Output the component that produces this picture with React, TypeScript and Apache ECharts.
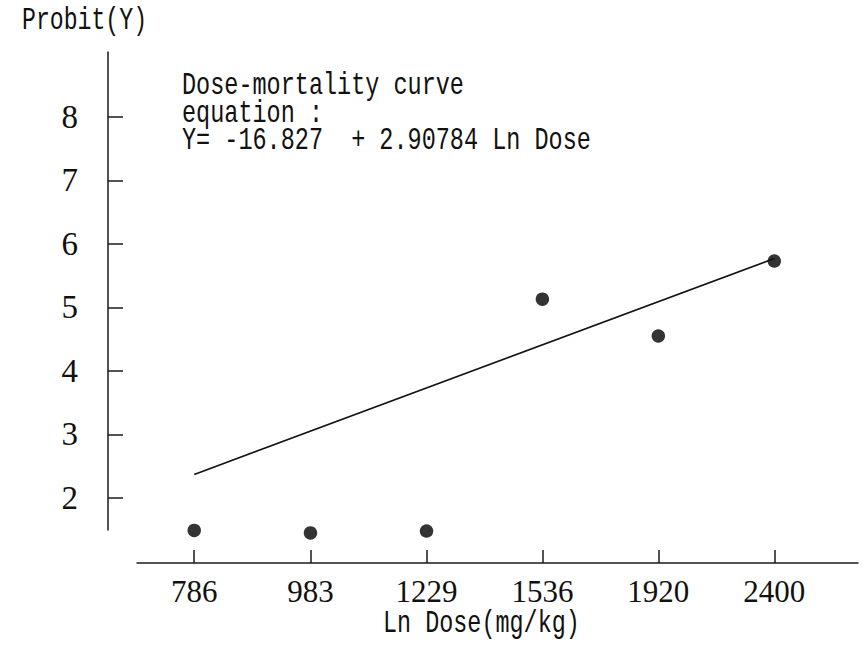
import React, { useEffect, useRef } from "react";
import * as echarts from "echarts";

// Data
const doses = [786, 983, 1229, 1536, 1920, 2400];
const probits = [1.49, 1.45, 1.48, 5.13, 4.55, 5.73];
const fitDoses = [786, 2400];
const fitProbits = [2.37, 5.77];
const yTicks = [2, 3, 4, 5, 6, 7, 8];
const annotationLines = [
  "Dose-mortality curve",
  "equation :",
  "Y= -16.827  + 2.90784 Ln Dose",
];
const xTitle = "Ln Dose(mg/kg)";
const yTitle = "Probit(Y)";

const mono = "'Liberation Mono', 'DejaVu Sans Mono', monospace";
const serif = "'Liberation Serif', 'DejaVu Serif', serif";

export default function App() {
  const ref = useRef<HTMLDivElement>(null);
  useEffect(() => {
    if (!ref.current) return;
    const chart = echarts.init(ref.current, null, { renderer: "svg" });
    const lnDoses = doses.map((d) => Math.log(d));
    const labelFor = (v: number) => {
      let best = 0;
      lnDoses.forEach((l, i) => {
        if (Math.abs(l - v) < Math.abs(lnDoses[best] - v)) best = i;
      });
      return String(doses[best]);
    };
    const monoText = (text: string, x: number, y: number, sx: number) => ({
      type: "text",
      x,
      y,
      scaleX: sx,
      style: {
        text,
        fontFamily: mono,
        fontSize: 31,
        fill: "#111",
        textAlign: "left",
        textVerticalAlign: "middle",
      },
    });
    chart.setOption({
      animation: false,
      backgroundColor: "#ffffff",
      grid: {
        left: 137,
        right: 5,
        top: 52,
        bottom: 118,
        outerBoundsMode: "none",
      },
      xAxis: {
        type: "value",
        min: 6.5568,
        max: 7.9443,
        offset: 33,
        axisLine: { show: true, lineStyle: { color: "#1a1a1a", width: 1.5 } },
        splitLine: { show: false },
        axisTick: {
          show: true,
          inside: true,
          length: 13,
          customValues: lnDoses,
          lineStyle: { color: "#1a1a1a", width: 1.5 },
        },
        axisLabel: {
          customValues: lnDoses,
          formatter: (v: number) => labelFor(v),
          color: "#111",
          fontFamily: serif,
          fontSize: 31,
          margin: 13,
        },
      },
      yAxis: {
        type: "value",
        min: 1.496,
        max: 9.02,
        offset: 29,
        axisLine: { show: true, lineStyle: { color: "#1a1a1a", width: 1.5 } },
        splitLine: { show: false },
        axisTick: {
          show: true,
          inside: true,
          length: 15,
          customValues: yTicks,
          lineStyle: { color: "#1a1a1a", width: 1.5 },
        },
        axisLabel: {
          customValues: yTicks,
          color: "#111",
          fontFamily: serif,
          fontSize: 33,
          margin: 30,
        },
      },
      graphic: [
        monoText(yTitle, 22, 21, 0.747),
        monoText(xTitle, 383, 624, 0.756),
        ...annotationLines.map((t, i) => monoText(t, 182, 86 + i * 27.5, 0.758)),
      ],
      series: [
        {
          type: "line",
          data: fitDoses.map((d, i) => [Math.log(d), fitProbits[i]]),
          symbol: "none",
          lineStyle: { color: "#111", width: 1.6 },
          silent: true,
        },
        {
          type: "scatter",
          clip: false,
          data: doses.map((d, i) => [Math.log(d), probits[i]]),
          symbol: "circle",
          symbolSize: 13.5,
          itemStyle: { color: "#000" },
        },
      ],
    });
    return () => chart.dispose();
  }, []);
  return (
    <div
      ref={ref}
      style={{ position: "fixed", left: 0, top: 0, width: 863, height: 648 }}
    />
  );
}
